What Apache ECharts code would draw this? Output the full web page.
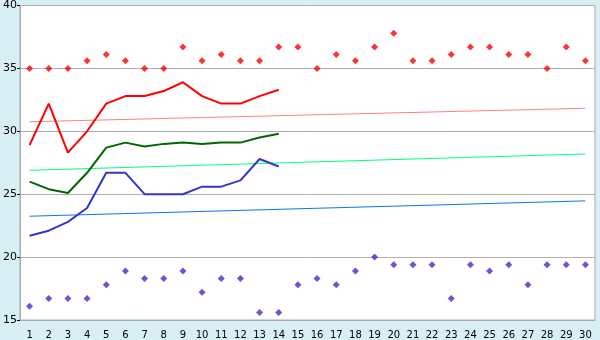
<!DOCTYPE html>
<html><head><meta charset="utf-8">
<script src="https://cdn.jsdelivr.net/npm/echarts@6/dist/echarts.min.js"></script>
<style>html,body{margin:0;padding:0;background:#d9eff6;}#c{width:600px;height:340px;}</style>
</head><body><div id="c"></div>
<script>
var days = ['1','2','3','4','5','6','7','8','9','10','11','12','13','14','15','16','17','18','19','20','21','22','23','24','25','26','27','28','29','30'];
var maxTemps = [35.0,35.0,35.0,35.6,36.1,35.6,35.0,35.0,36.7,35.6,36.1,35.6,35.6,36.7,36.7,35.0,36.1,35.6,36.7,37.8,35.6,35.6,36.1,36.7,36.7,36.1,36.1,35.0,36.7,35.6];
var minTemps = [16.1,16.7,16.7,16.7,17.8,18.9,18.3,18.3,18.9,17.2,18.3,18.3,15.6,15.6,17.8,18.3,17.8,18.9,20.0,19.4,19.4,19.4,16.7,19.4,18.9,19.4,17.8,19.4,19.4,19.4];
var highLine = [28.9,32.2,28.3,30.0,32.2,32.8,32.8,33.2,33.9,32.8,32.2,32.2,32.8,33.3];
var meanLine = [26.0,25.4,25.1,26.7,28.7,29.1,28.8,29.0,29.1,29.0,29.1,29.1,29.5,29.8];
var lowLine = [21.7,22.1,22.8,23.9,26.7,26.7,25.0,25.0,25.0,25.6,25.6,26.1,27.8,27.2];
var highNormalEnds = [30.76,31.83];
var meanNormalEnds = [26.9,28.2];
var lowNormalEnds = [23.25,24.47];
var yTicks = [15,20,25,30,35,40];

function ends(v){ return [[days[0], v[0]], [days[days.length-1], v[1]]]; }

var chart = echarts.init(document.getElementById('c'));
chart.setOption({
  animation: false,
  backgroundColor: '#d9eff6',
  grid: {left: 20, right: 5, top: 5, bottom: 20, show: true, backgroundColor: '#ffffff', borderColor: '#aaaaaa', borderWidth: 1},
  xAxis: {
    type: 'category', data: days, boundaryGap: true,
    axisLine: {lineStyle: {color: '#aaaaaa', width: 1}},
    axisTick: {alignWithLabel: true, length: 5, lineStyle: {color: '#000000'}},
    axisLabel: {color: '#000', fontFamily: 'DejaVu Sans', fontSize: 10, margin: 10, interval: 0},
    splitLine: {show: false}
  },
  yAxis: {
    type: 'value', min: yTicks[0], max: yTicks[yTicks.length-1], interval: 5,
    axisLine: {show: true, lineStyle: {color: '#aaaaaa', width: 1}},
    axisTick: {show: true, length: 3, lineStyle: {color: '#000000'}},
    axisLabel: {color: '#000', fontFamily: 'DejaVu Sans', fontSize: 11, margin: 3},
    splitLine: {show: true, lineStyle: {color: '#b0b0b0', width: 1}}
  },
  series: [
    {type: 'line', data: ends(highNormalEnds), symbol: 'none', lineStyle: {color: '#ff8080', width: 1}, z: 1},
    {type: 'line', data: ends(meanNormalEnds), symbol: 'none', lineStyle: {color: '#00ff80', width: 1}, z: 1},
    {type: 'line', data: ends(lowNormalEnds), symbol: 'none', lineStyle: {color: '#0a78e8', width: 1}, z: 1},
    {type: 'line', data: highLine, symbol: 'none', lineStyle: {color: '#ff0000', width: 2}, z: 2},
    {type: 'line', data: meanLine, symbol: 'none', lineStyle: {color: '#006600', width: 2}, z: 2},
    {type: 'line', data: lowLine, symbol: 'none', lineStyle: {color: '#3535c8', width: 2}, z: 2},
    {type: 'scatter', data: maxTemps, symbol: 'diamond', symbolSize: 7, itemStyle: {color: '#ff0000'}, z: 3},
    {type: 'scatter', data: minTemps, symbol: 'diamond', symbolSize: 7, itemStyle: {color: '#3535c8'}, z: 3}
  ]
});
</script></body></html>
